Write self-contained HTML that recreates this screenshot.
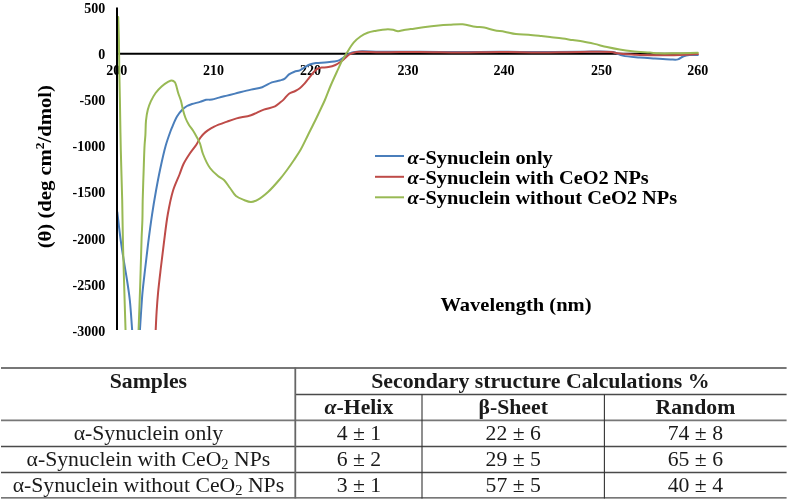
<!DOCTYPE html>
<html><head><meta charset="utf-8"><style>
html,body{margin:0;padding:0;background:#fff;width:789px;height:500px;overflow:hidden;}
</style></head><body>
<div style="position:relative;width:789px;height:500px;">

<svg width="789" height="500" viewBox="0 0 789 500" style="position:absolute;left:0;top:0;will-change:transform;filter:blur(0.4px)">
<defs><clipPath id="pc"><rect x="100" y="0" width="689" height="330"/></clipPath></defs>
<g font-family='"Liberation Serif", serif' font-weight="bold" font-size="14" fill="#000"><text x="105.2" y="13.0" text-anchor="end">500</text><text x="105.2" y="59.1" text-anchor="end">0</text><text x="105.2" y="105.2" text-anchor="end">-500</text><text x="105.2" y="151.3" text-anchor="end">-1000</text><text x="105.2" y="197.4" text-anchor="end">-1500</text><text x="105.2" y="243.5" text-anchor="end">-2000</text><text x="105.2" y="289.6" text-anchor="end">-2500</text><text x="105.2" y="335.7" text-anchor="end">-3000</text><text x="116.8" y="75.1" text-anchor="middle">200</text><text x="213.6" y="75.1" text-anchor="middle">210</text><text x="310.5" y="75.1" text-anchor="middle">220</text><text x="408.0" y="75.1" text-anchor="middle">230</text><text x="504.0" y="75.1" text-anchor="middle">240</text><text x="601.4" y="75.1" text-anchor="middle">250</text><text x="697.8" y="75.1" text-anchor="middle">260</text></g>
<line x1="117" y1="53.7" x2="698" y2="53.7" stroke="#000" stroke-width="2"/>
<g clip-path="url(#pc)" fill="none" stroke-width="2" stroke-linejoin="round" stroke-linecap="round">
<path d="M117.30,212.00 C118.33,220.67 119.26,229.52 120.40,238.00 C121.50,246.17 122.83,254.58 124.00,262.00 C125.02,268.44 126.05,273.84 127.00,280.00 C127.99,286.48 128.99,292.54 129.80,300.00 C130.82,309.41 131.47,321.33 132.30,332.00" stroke="#4a7ebb"/>
<path d="M139.80,332.00 C140.27,324.67 140.72,316.92 141.20,310.00 C141.63,303.81 141.92,298.68 142.50,292.40 C143.17,285.15 144.18,277.01 145.10,269.00 C146.07,260.54 147.07,251.79 148.20,242.90 C149.39,233.58 150.73,223.36 152.10,214.30 C153.34,206.07 154.64,198.39 156.00,190.80 C157.28,183.65 158.48,177.17 160.00,170.00 C161.64,162.27 163.61,153.02 165.60,146.00 C167.19,140.37 169.41,134.25 170.60,131.00 C171.18,129.42 171.37,128.98 172.00,127.50 C173.13,124.85 175.14,119.60 177.00,116.50 C178.53,113.95 180.22,111.82 182.00,110.00 C183.58,108.39 185.25,107.02 187.00,106.00 C188.60,105.07 190.12,104.62 192.00,104.00 C194.33,103.23 197.54,102.65 200.00,101.90 C202.16,101.24 203.97,100.20 206.00,99.80 C207.97,99.41 209.94,99.83 212.00,99.50 C214.26,99.14 216.59,98.23 219.00,97.60 C221.57,96.93 224.33,96.27 227.00,95.60 C229.67,94.93 231.88,94.38 235.00,93.60 C239.42,92.50 246.13,90.73 251.00,89.60 C255.06,88.66 258.68,88.43 262.20,87.20 C265.60,86.01 268.68,83.53 271.80,82.40 C274.53,81.41 277.50,81.16 279.80,80.50 C281.59,79.98 283.05,79.80 284.50,78.90 C286.15,77.88 287.32,75.61 289.00,74.40 C290.63,73.22 292.56,72.39 294.40,71.70 C296.17,71.04 298.13,71.00 299.80,70.30 C301.42,69.62 302.73,68.52 304.30,67.60 C306.01,66.59 307.77,65.25 309.70,64.50 C311.67,63.74 313.70,63.44 316.00,63.10 C318.72,62.69 322.00,62.67 325.00,62.40 C328.00,62.13 331.37,61.96 334.00,61.50 C336.10,61.13 337.92,60.84 339.60,60.10 C341.17,59.41 342.40,58.23 343.80,57.30 C345.20,56.37 346.57,55.33 348.00,54.50 C349.38,53.70 350.57,52.91 352.20,52.40 C354.19,51.78 356.24,51.58 359.20,51.40 C364.28,51.09 371.94,51.72 380.00,51.80 C391.17,51.91 406.67,51.77 420.00,51.80 C433.33,51.83 446.67,52.00 460.00,52.00 C473.33,52.00 486.67,51.80 500.00,51.80 C513.33,51.80 526.67,52.00 540.00,52.00 C553.33,52.00 567.31,51.77 580.00,51.80 C591.53,51.82 605.35,50.73 613.00,52.10 C617.28,52.87 618.95,54.73 622.70,55.60 C627.54,56.73 634.26,57.01 639.80,57.50 C645.01,57.96 649.92,58.18 655.00,58.50 C660.09,58.82 666.08,59.28 670.30,59.40 C673.27,59.49 675.62,60.00 677.90,59.40 C680.02,58.85 681.64,56.94 683.60,56.20 C685.45,55.51 687.20,55.22 689.30,55.00 C691.84,54.74 694.97,55.00 697.80,55.00" stroke="#4a7ebb"/>
<path d="M155.60,332.00 C155.93,325.33 156.18,318.63 156.60,312.00 C157.02,305.43 157.46,299.22 158.10,292.40 C158.80,284.94 159.76,277.01 160.70,269.00 C161.69,260.53 162.75,251.79 163.90,242.90 C165.11,233.58 166.19,223.33 167.80,214.30 C169.27,206.05 170.83,197.84 173.00,190.80 C174.85,184.79 177.61,179.34 179.50,174.50 C181.01,170.62 181.85,167.39 183.50,164.00 C185.18,160.55 187.34,157.24 189.50,154.00 C191.67,150.74 194.67,147.36 196.50,144.50 C197.89,142.32 198.58,140.31 199.80,138.50 C200.93,136.83 202.15,135.36 203.50,134.00 C204.82,132.67 206.17,131.55 207.80,130.40 C209.68,129.07 211.64,127.85 214.20,126.60 C217.68,124.90 223.02,123.04 227.00,121.60 C230.41,120.37 233.05,119.38 236.60,118.40 C240.89,117.21 246.41,116.70 251.00,115.20 C255.47,113.74 259.63,111.10 263.80,109.60 C267.61,108.23 272.20,107.80 275.00,106.40 C276.95,105.43 278.05,104.15 279.50,103.00 C280.91,101.88 282.19,100.95 283.60,99.60 C285.33,97.95 286.96,95.15 289.00,93.70 C290.89,92.36 293.41,91.97 295.30,91.00 C296.96,90.15 298.37,89.42 299.80,88.30 C301.38,87.07 302.92,85.34 304.30,83.80 C305.61,82.34 306.70,80.80 307.90,79.30 C309.10,77.80 310.28,76.24 311.50,74.80 C312.68,73.41 313.95,71.92 315.10,70.80 C316.03,69.89 316.76,69.03 317.80,68.50 C318.86,67.96 319.99,67.82 321.40,67.60 C323.34,67.29 326.09,67.52 328.40,67.10 C330.76,66.67 333.26,65.97 335.40,65.00 C337.44,64.08 339.31,62.73 341.00,61.50 C342.54,60.38 343.80,59.17 345.20,58.00 C346.60,56.83 347.93,55.40 349.40,54.50 C350.74,53.68 351.99,53.14 353.60,52.70 C355.60,52.15 357.68,51.95 360.60,51.80 C365.45,51.55 372.38,52.24 380.00,52.30 C390.95,52.39 406.67,51.88 420.00,51.90 C433.33,51.92 446.67,52.40 460.00,52.40 C473.33,52.40 486.67,51.90 500.00,51.90 C513.33,51.90 526.67,52.40 540.00,52.40 C553.33,52.40 567.31,51.92 580.00,51.90 C591.53,51.88 607.34,51.41 613.00,52.20 C615.01,52.48 615.15,52.98 617.00,53.30 C620.96,53.98 629.66,54.38 636.00,54.70 C642.33,55.02 648.67,55.12 655.00,55.20 C661.33,55.28 667.31,55.35 674.00,55.20 C681.49,55.03 689.87,54.47 697.80,54.10" stroke="#be4b48"/>
<path d="M118.20,17.00 C118.43,24.67 118.72,31.82 118.90,40.00 C119.10,49.34 119.13,60.00 119.30,70.00 C119.47,80.00 119.69,88.73 119.90,100.00 C120.18,114.55 120.42,133.33 120.80,150.00 C121.18,166.67 121.84,184.26 122.20,200.00 C122.52,214.08 122.60,226.67 122.90,240.00 C123.20,253.33 123.59,265.79 124.00,280.00 C124.47,296.20 125.07,314.67 125.60,332.00" stroke="#98b954"/>
<path d="M138.50,332.00 C139.07,316.33 139.68,300.67 140.20,285.00 C140.72,269.33 141.16,249.98 141.60,238.00 C141.88,230.59 142.22,226.16 142.40,220.00 C142.59,213.51 142.53,207.23 142.70,200.00 C142.90,191.43 143.28,181.16 143.60,171.90 C143.91,162.84 144.20,151.79 144.60,145.00 C144.84,140.86 145.18,138.64 145.40,135.00 C145.67,130.64 145.54,125.04 146.00,120.60 C146.40,116.73 146.93,113.14 147.80,109.80 C148.58,106.79 149.54,104.15 150.80,101.40 C152.12,98.54 153.75,95.54 155.60,93.00 C157.37,90.56 159.49,88.26 161.60,86.40 C163.51,84.72 165.73,83.24 167.60,82.20 C169.08,81.38 170.54,80.31 171.80,80.40 C172.91,80.47 174.03,81.27 174.80,82.20 C175.73,83.32 176.05,85.30 176.60,87.00 C177.20,88.87 177.54,90.87 178.20,93.00 C178.97,95.49 180.21,98.23 181.00,101.00 C181.82,103.89 182.23,107.10 183.00,110.00 C183.74,112.76 184.48,115.46 185.50,118.00 C186.49,120.45 187.70,122.86 189.00,125.00 C190.21,127.00 191.72,128.52 193.00,130.50 C194.40,132.66 195.79,135.24 197.00,137.50 C198.10,139.56 199.10,141.17 200.00,143.50 C201.15,146.47 201.57,150.32 203.00,154.00 C204.71,158.41 207.23,164.16 210.00,168.00 C212.35,171.26 215.42,173.89 218.00,176.00 C220.06,177.69 222.14,178.24 224.00,180.00 C226.19,182.07 228.00,185.33 230.00,188.00 C232.00,190.67 233.58,193.98 236.00,196.00 C238.29,197.91 241.38,198.98 244.00,200.00 C246.37,200.92 248.68,202.06 251.00,202.00 C253.34,201.94 255.57,200.90 258.00,199.60 C261.17,197.91 264.65,195.04 268.00,192.00 C271.98,188.39 276.61,183.00 280.00,179.00 C282.72,175.79 284.71,173.11 287.00,170.00 C289.37,166.78 291.70,163.44 294.00,160.00 C296.37,156.45 298.76,152.95 301.00,149.00 C303.45,144.67 305.67,139.67 308.00,135.00 C310.33,130.33 312.88,125.34 315.00,121.00 C316.83,117.26 318.35,114.00 320.00,110.50 C321.65,107.00 323.27,103.78 324.90,100.00 C326.76,95.69 328.53,90.65 330.50,86.00 C332.49,81.31 334.74,76.47 336.80,72.00 C338.70,67.86 340.43,63.75 342.40,60.10 C344.18,56.81 346.11,53.96 348.00,51.00 C349.84,48.13 351.46,45.06 353.60,42.60 C355.65,40.25 358.08,38.17 360.50,36.50 C362.76,34.95 365.14,33.74 367.60,32.80 C370.04,31.87 372.83,31.38 375.20,30.90 C377.25,30.48 378.98,30.26 381.00,30.00 C383.20,29.72 385.77,29.30 387.90,29.30 C389.73,29.30 391.32,29.49 393.00,29.80 C394.69,30.12 396.25,31.13 398.00,31.20 C399.90,31.27 401.94,30.34 404.00,30.00 C406.17,29.64 408.11,29.47 410.70,29.10 C414.26,28.59 418.97,27.78 423.40,27.20 C428.23,26.57 433.95,25.91 438.60,25.50 C442.53,25.15 445.69,24.99 449.50,24.80 C453.69,24.59 458.37,23.97 462.70,24.30 C466.97,24.62 471.45,26.14 475.30,26.70 C478.51,27.17 481.15,27.06 484.20,27.60 C487.51,28.19 490.99,29.51 494.40,30.20 C497.76,30.88 501.04,31.08 504.50,31.70 C508.19,32.36 511.98,33.58 515.90,34.10 C520.00,34.64 524.37,34.47 528.60,34.80 C532.84,35.13 537.47,35.68 541.30,36.10 C544.47,36.44 546.83,36.73 550.00,37.10 C553.83,37.55 558.71,38.07 562.70,38.60 C566.26,39.07 569.42,39.62 572.80,40.10 C576.19,40.58 579.52,40.90 583.00,41.50 C586.71,42.14 590.51,43.00 594.40,43.90 C598.50,44.85 602.78,46.15 607.00,47.10 C611.21,48.05 615.46,48.90 619.70,49.60 C623.92,50.30 627.81,50.82 632.40,51.30 C637.78,51.86 645.12,52.23 650.00,52.60 C653.47,52.86 655.54,53.17 658.90,53.30 C663.27,53.47 668.40,53.36 674.00,53.30 C681.04,53.23 689.87,52.97 697.80,52.80" stroke="#98b954"/>
</g>
<line x1="117" y1="7.5" x2="117" y2="330" stroke="#000" stroke-width="2"/>
<text transform="translate(51.1,166.7) rotate(-90) scale(1.06,1)" text-anchor="middle" font-family='"Liberation Serif", serif' font-weight="bold" font-size="19.5">(θ) (deg cm<tspan font-size="12.7" dy="-7">2</tspan><tspan dy="7">/dmol)</tspan></text>
<g stroke-width="2">
<line x1="375" y1="156" x2="404" y2="156" stroke="#4a7ebb"/>
<line x1="375" y1="176.8" x2="404" y2="176.8" stroke="#be4b48"/>
<line x1="375" y1="197.3" x2="404" y2="197.3" stroke="#98b954"/>
</g>
<g font-family='"Liberation Serif", serif' font-weight="bold" font-size="18" transform="translate(407.5,0) scale(1.131,1)">
<text x="0" y="163.8"><tspan font-style="italic">α</tspan>-Synuclein only</text>
<text x="0" y="184.1"><tspan font-style="italic">α</tspan>-Synuclein with CeO2 NPs</text>
<text x="0" y="204.4"><tspan font-style="italic">α</tspan>-Synuclein without CeO2 NPs</text>
</g>
<text transform="translate(516,310.7) scale(1.11,1)" text-anchor="middle" font-family='"Liberation Serif", serif' font-weight="bold" font-size="18.5">Wavelength (nm)</text>


<g stroke="#777" stroke-width="1.8">
<line x1="1" y1="368" x2="786.6" y2="368"/>
<line x1="1" y1="420.3" x2="786.6" y2="420.3"/>
</g>
<g stroke="#4a4a4a" stroke-width="1.3">
<line x1="295.5" y1="394.5" x2="786.6" y2="394.5"/>
<line x1="1" y1="446.5" x2="786.6" y2="446.5"/>
<line x1="1" y1="472.5" x2="786.6" y2="472.5"/>
<line x1="1" y1="497.8" x2="786.6" y2="497.8"/>
</g>
<line x1="295.3" y1="367.5" x2="295.3" y2="498.4" stroke="#666" stroke-width="1.8"/>
<g stroke="#333" stroke-width="1.1">
<line x1="422" y1="394.5" x2="422" y2="498.4"/>
<line x1="604.4" y1="394.5" x2="604.4" y2="498.4"/>
</g>

<g font-family='"Liberation Serif", serif' fill="#1a1a1a"><text transform="translate(148.4,387.8) scale(1.035,1)" text-anchor="middle" font-weight="bold" font-size="21">Samples</text><text transform="translate(540.4,387.8) scale(1.04,1)" text-anchor="middle" font-weight="bold" font-size="21">Secondary structure Calculations %</text><text transform="translate(358.9,414) scale(1.035,1)" text-anchor="middle" font-weight="bold" font-size="21"><tspan font-style="italic">α</tspan>-Helix</text><text transform="translate(513.2,414) scale(1.035,1)" text-anchor="middle" font-weight="bold" font-size="21">β-Sheet</text><text transform="translate(695.4,414) scale(1.035,1)" text-anchor="middle" font-weight="bold" font-size="21">Random</text><text transform="translate(148.4,440) scale(1.035,1)" text-anchor="middle" font-size="21">α-Synuclein only</text><text transform="translate(358.9,440) scale(1.035,1)" text-anchor="middle" font-size="21">4 ± 1</text><text transform="translate(513.2,440) scale(1.035,1)" text-anchor="middle" font-size="21">22 ± 6</text><text transform="translate(695.4,440) scale(1.035,1)" text-anchor="middle" font-size="21">74 ± 8</text><text transform="translate(148.4,466) scale(1.035,1)" text-anchor="middle" font-size="21">α-Synuclein with CeO<tspan font-size="14" dy="2.5">2</tspan><tspan dy="-2.5"> </tspan>NPs</text><text transform="translate(358.9,466) scale(1.035,1)" text-anchor="middle" font-size="21">6 ± 2</text><text transform="translate(513.2,466) scale(1.035,1)" text-anchor="middle" font-size="21">29 ± 5</text><text transform="translate(695.4,466) scale(1.035,1)" text-anchor="middle" font-size="21">65 ± 6</text><text transform="translate(148.4,492) scale(1.035,1)" text-anchor="middle" font-size="21">α-Synuclein without CeO<tspan font-size="14" dy="2.5">2</tspan><tspan dy="-2.5"> </tspan>NPs</text><text transform="translate(358.9,492) scale(1.035,1)" text-anchor="middle" font-size="21">3 ± 1</text><text transform="translate(513.2,492) scale(1.035,1)" text-anchor="middle" font-size="21">57 ± 5</text><text transform="translate(695.4,492) scale(1.035,1)" text-anchor="middle" font-size="21">40 ± 4</text></g>
</svg>
</div>
</body></html>
